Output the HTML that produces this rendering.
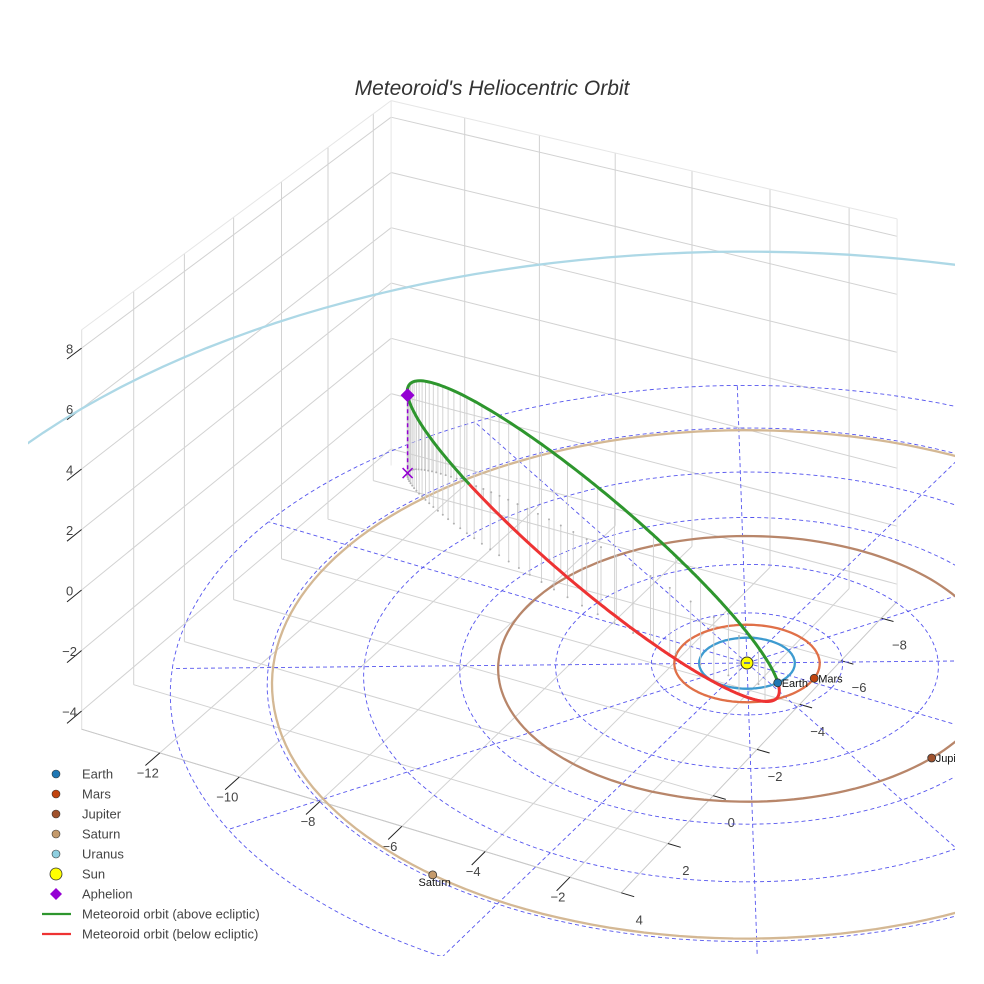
<!DOCTYPE html>
<html><head><meta charset="utf-8"><style>
html,body{margin:0;padding:0;background:#fff;overflow:hidden;width:984px;height:984px;}
svg{display:block;font-family:"Liberation Sans",sans-serif;}
</style></head><body>
<svg id="chart" width="984" height="984" viewBox="0 0 984 984" xmlns="http://www.w3.org/2000/svg">
<defs><clipPath id="sceneClip"><rect x="28" y="0" width="927" height="956"/></clipPath></defs>
<rect width="984" height="984" fill="#fff"/>
<text x="492" y="95" text-anchor="middle" font-size="21" font-style="italic" fill="#333">Meteoroid's Heliocentric Orbit</text>
<g id="scene" clip-path="url(#sceneClip)"></g>
<g id="legend"></g>
</svg>
<script>
// ---- data ----
const planetNames = ['Earth','Mars','Jupiter','Saturn','Uranus'];
const orbitRadii = [1.0, 1.52, 5.2, 9.9, 18.7];
const planetAngles = [22.9, -4.4, 16.4, 100.8, 60];
const ringRadii = [2,4,6,8,10,12];
const rayAngles = [1.4,31.4,61.4,91.4,121.4,151.4,181.4,211.4,241.4,271.4,301.4,331.4];
const xTicks = [-12,-10,-8,-6,-4,-2];
const yTicks = [-8,-6,-4,-2,0,2,4];
const zTicks = [-4,-2,0,2,4,6,8];
const xRange = [-14,-0.8];
const yRange = [-8.8,4];
const zRange = [-4.6,8.6];
const semiMajor = 6.15;
const eccentricity = 0.838;
const inclination = 73.8;
const ascNode = 22.9;
const argPeri = 345.7;

// ---- styles ----
const orbitColors = ['#3d9bd0','#e07048','#b8866a','#d4b894','#add8e6'];
const dotColors = ['#1f77b4','#c1440e','#a0522d','#c49a6c','#8ecfe0'];

// ---- projection ----
const S = {ox:747, oy:663, ax:42.4, ay:11.8, bx:-22.1, by:22.6, zs:31, D:3000};
function P(x,y,z){
  const px = S.ax*x + S.bx*y;
  const pp = S.ay*x + S.by*y;
  const f = S.D/(S.D-pp);
  return [S.ox + f*px, S.oy + f*(pp - S.zs*z)];
}
const NS='http://www.w3.org/2000/svg';
const scene=document.getElementById('scene');
const legend=document.getElementById('legend');
function el(tag,parent,attrs){const e=document.createElementNS(NS,tag);for(const k in attrs)e.setAttribute(k,attrs[k]);parent.appendChild(e);return e;}
function pts(arr){return arr.map(p=>p[0].toFixed(1)+','+p[1].toFixed(1)).join(' ');}
function fmt(v){return v<0?'\u2212'+Math.abs(v):String(v);}

// ---- box grid ----
const gridG=el('g',scene,{});


function gline(a,b,name,col){
  const l=el('polyline',gridG,{points:pts([a,b]),stroke:col||'#d2d2d2','stroke-width':1,fill:'none'});
  
  
}
const [x0,x1]=xRange,[y0,y1]=yRange,[z0,z1]=zRange;
xTicks.forEach(x=>{
  gline(P(x,y0,z0),P(x,y1,z0),'floor-gridline-x');
  gline(P(x,y0,z0),P(x,y0,z1),'wall-gridline-x');
});
yTicks.forEach(y=>{
  gline(P(x0,y,z0),P(x1,y,z0),'floor-gridline-y');
  gline(P(x0,y,z0),P(x0,y,z1),'wall-gridline-y');
});
zTicks.forEach(z=>{
  gline(P(x0,y0,z),P(x0,y1,z),'left-wall-gridline-z');
  gline(P(x0,y0,z),P(x1,y0,z),'right-wall-gridline-z');
});
[[P(x0,y1,z1),P(x0,y0,z1)],[P(x0,y0,z1),P(x1,y0,z1)],[P(x0,y1,z0),P(x0,y1,z1)],[P(x1,y0,z0),P(x1,y0,z1)],[P(x0,y0,z0),P(x0,y0,z1)]].forEach(s=>gline(s[0],s[1],'box-edge','#e6e6e6'));
gline(P(x0,y1,z0),P(x1,y1,z0),'x-axis-line','#c8c8c8');
gline(P(x1,y0,z0),P(x1,y1,z0),'y-axis-line','#c8c8c8');

// ---- ticks & labels ----
const tickG=el('g',scene,{});


function tick(a,b,lx,ly,txt,name){
  el('polyline',tickG,{points:pts([a,b]),stroke:'#222','stroke-width':1,fill:'none'});
  const t=el('text',tickG,{x:lx.toFixed(1),y:ly.toFixed(1),'text-anchor':'middle','dominant-baseline':'central','font-size':13,fill:'#444'});
  t.textContent=txt;
  
  
}
xTicks.forEach(x=>{const a=P(x,y1,z0),b=P(x,y1+0.55,z0);tick(a,b,a[0]-12,a[1]+20,fmt(x),'x-tick-label');});
yTicks.forEach(y=>{const a=P(x1,y,z0),b=P(x1+0.3,y,z0);tick(a,b,a[0]+18,a[1]+27,fmt(y),'y-tick-label');});
zTicks.forEach(z=>{const a=P(x0,y1,z),b=P(x0,y1+0.55,z);tick(a,b,a[0]-12,a[1]+1,fmt(z),'z-tick-label');});

// ---- ecliptic polar grid ----
const polG=el('g',scene,{});


function circlePts(r,z){const a=[];for(let d=0;d<=360;d+=2){const t=d*Math.PI/180;a.push(P(r*Math.cos(t),r*Math.sin(t),z||0));}return a;}
ringRadii.forEach(r=>{
  const c=el('polyline',polG,{points:pts(circlePts(r)),stroke:'#5555ee','stroke-width':0.9,'stroke-dasharray':'4,3',fill:'none'});
  
  
});
rayAngles.forEach(a=>{
  const t=a*Math.PI/180,R=ringRadii[ringRadii.length-1];
  const l=el('polyline',polG,{points:pts([P(0,0,0),P(R*Math.cos(t),R*Math.sin(t),0)]),stroke:'#5555ee','stroke-width':0.9,'stroke-dasharray':'4,3',fill:'none'});
  
  
});

// ---- planet orbits ----
const orbG=el('g',scene,{});


orbitRadii.forEach((r,i)=>{
  const c=el('polyline',orbG,{points:pts(circlePts(r)),stroke:orbitColors[i],'stroke-width':2.3,fill:'none'});
  
  
});

// ---- meteoroid orbit ----
const metG=el('g',scene,{});


const rad=Math.PI/180;
function metPos(nu){
  const p=semiMajor*(1-eccentricity*eccentricity);
  const r=p/(1+eccentricity*Math.cos(nu*rad));
  const u=(argPeri+nu)*rad,O=ascNode*rad,I=inclination*rad;
  return [r*(Math.cos(O)*Math.cos(u)-Math.sin(O)*Math.sin(u)*Math.cos(I)),
          r*(Math.sin(O)*Math.cos(u)+Math.cos(O)*Math.sin(u)*Math.cos(I)),
          r*Math.sin(u)*Math.sin(I)];
}
const stemG=el('g',metG,{});


for(let k=0;k<80;k++){
  const M=k*2*Math.PI/80;let E=M;
  for(let j=0;j<30;j++)E=E-(E-eccentricity*Math.sin(E)-M)/(1-eccentricity*Math.cos(E));
  const nu=2*Math.atan2(Math.sqrt(1+eccentricity)*Math.sin(E/2),Math.sqrt(1-eccentricity)*Math.cos(E/2))/rad;
  const q=metPos(nu);const a=P(q[0],q[1],q[2]),b=P(q[0],q[1],0);
  const s=el('polyline',stemG,{points:pts([a,b]),stroke:'#cfcfcf','stroke-width':0.9,fill:'none'});
  
  
  el('circle',stemG,{cx:b[0].toFixed(1),cy:b[1].toFixed(1),r:1,fill:'#b0b0b0'});
}
let seg=[],segUp=null;
function flush(){
  if(seg.length>1){
    const l=el('polyline',metG,{points:pts(seg),stroke:segUp?'#2e962e':'#ee3333','stroke-width':3,fill:'none','stroke-linejoin':'round'});
    
    
  }
}
for(let d=-180;d<=180;d+=0.5){
  const q=metPos(d);const up=q[2]>=0;const sp=P(q[0],q[1],q[2]);
  if(segUp===null)segUp=up;
  if(up!==segUp){seg.push(sp);flush();seg=[sp];segUp=up;}else seg.push(sp);
}
flush();
const aph=metPos(180);
const A=P(aph[0],aph[1],aph[2]),A0=P(aph[0],aph[1],0);
const aLine=el('polyline',metG,{points:pts([A,A0]),stroke:'#9400d3','stroke-width':1.5,'stroke-dasharray':'4,3',fill:'none'});


const xm=el('path',metG,{d:`M${A0[0]-5},${A0[1]-5}L${A0[0]+5},${A0[1]+5}M${A0[0]-5},${A0[1]+5}L${A0[0]+5},${A0[1]-5}`,stroke:'#9400d3','stroke-width':1.5});


const dm=el('path',metG,{d:`M${A[0]},${A[1]-7}L${A[0]+7},${A[1]}L${A[0]},${A[1]+7}L${A[0]-7},${A[1]}Z`,fill:'#9400d3'});



// ---- sun & planets ----
const sp=P(0,0,0);
const sun=el('circle',scene,{cx:sp[0],cy:sp[1],r:6,fill:'#ffff00',stroke:'#333','stroke-width':1});


el('line',scene,{x1:sp[0]-3,y1:sp[1],x2:sp[0]+3,y2:sp[1],stroke:'#3355cc','stroke-width':1.5});
planetNames.forEach((n,i)=>{
  const t=planetAngles[i]*rad,r=orbitRadii[i];
  const p=P(r*Math.cos(t),r*Math.sin(t),0);
  const c=el('circle',scene,{cx:p[0].toFixed(1),cy:p[1].toFixed(1),r:4,fill:dotColors[i],stroke:'#333','stroke-width':0.8});
  
  
  const below=(n==='Saturn');
  const tx=el('text',scene,{x:(below?p[0]+2:p[0]+4).toFixed(1),y:(below?p[1]+11:p[1]+4).toFixed(1),'font-size':11,fill:'#111','text-anchor':below?'middle':'start'});
  tx.textContent=n;
  
  
});

// ---- legend ----
const legendItems=['Earth','Mars','Jupiter','Saturn','Uranus','Sun','Aphelion','Meteoroid orbit (above ecliptic)','Meteoroid orbit (below ecliptic)'];
legendItems.forEach((n,i)=>{
  const y=774+i*20;
  const g=el('g',legend,{});
  
  
  if(i<5){el('circle',g,{cx:56,cy:y,r:4,fill:dotColors[i],stroke:'#333','stroke-width':0.6});}
  else if(i===5){el('circle',g,{cx:56,cy:y,r:6,fill:'#ffff00',stroke:'#333','stroke-width':0.8});}
  else if(i===6){el('path',g,{d:`M56,${y-6}L62,${y}L56,${y+6}L50,${y}Z`,fill:'#9400d3'});}
  else{el('line',g,{x1:42,y1:y,x2:71,y2:y,stroke:i===7?'#2e962e':'#ee3333','stroke-width':2.2});}
  const t=el('text',g,{x:82,y:y+4.5,'font-size':13,fill:'#444'});
  t.textContent=n;
});
</script>
</body></html>
